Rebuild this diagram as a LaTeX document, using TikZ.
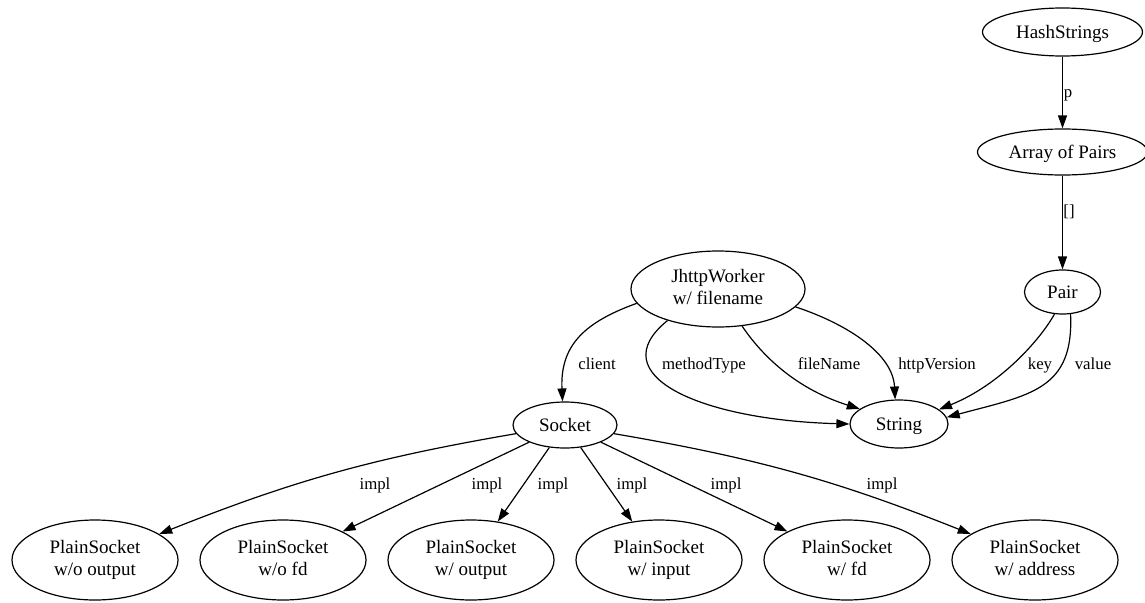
\documentclass[tikz,border=0pt]{standalone}
\usepackage{fontspec}
\setmainfont{Liberation Serif}
\usetikzlibrary{shapes.geometric,arrows.meta}

\begin{document}
\begin{tikzpicture}[x=1pt,y=1pt,
    shell/.style={draw,ellipse,inner sep=0pt,line width=1.2pt,font=\fontsize{19}{22}\selectfont},
    obj/.style={shell,text height=13.5pt,text depth=1pt},
    twolines/.style 2 args={shell,align=center,
      execute at begin node={\rule{0pt}{#1}},execute at end node={\rule[-#2]{0pt}{#2}}},
    impl/.style={twolines={19pt}{5pt},minimum width=166pt,minimum height=80pt},
    link/.style={line width=1.2pt,-{Triangle[length=13pt,width=9pt]}},
    lbl/.style={font=\fontsize{16.8}{20}\selectfont,anchor=base,inner sep=0pt}]
  \useasboundingbox (0,0) rectangle (1145,-602);

  % the hash table side
  \node[obj,minimum width=160pt,minimum height=48pt] (hash) at (1062.5,-32) {HashStrings};
  \node[obj,minimum width=170pt,minimum height=46pt] (pairs) at (1062.5,-152) {Array of Pairs};
  \node[obj,minimum width=76pt,minimum height=44pt] (pair) at (1062.5,-292) {Pair};

  % the worker
  \node[twolines={15pt}{5pt},minimum width=174pt,minimum height=76pt] (worker) at (718,-289) {JhttpWorker\\w/ filename};
  \node[obj,minimum width=104pt,minimum height=46pt] (socket) at (565,-425) {Socket};
  \node[obj,minimum width=98pt,minimum height=48pt] (string) at (899,-424) {String};

  % socket implementations
  \node[impl] (wooutput) at (95,-560) {PlainSocket\\w/o output};
  \node[impl] (wofd) at (283,-560) {PlainSocket\\w/o fd};
  \node[impl] (woutput) at (471,-560) {PlainSocket\\w/ output};
  \node[impl] (winput) at (659,-560) {PlainSocket\\w/ input};
  \node[impl] (wfd) at (847,-560) {PlainSocket\\w/ fd};
  \node[impl] (waddress) at (1035,-560) {PlainSocket\\w/ address};

  \draw[link] (hash) -- (pairs);
  \draw[link] (pairs) -- (pair);
  \node[lbl] (lp) at (1068,-97) {p};
  \node[lbl] (lidx) at (1069,-216) {[]};

  \draw[link] (worker.190) .. controls (585,-322) and (560,-345) .. (socket.96);
  \draw[link] (worker.212) .. controls (600,-375) and (700,-420) .. (string.180);
  \draw[link] (worker.303) .. controls (765,-360) and (800,-390) .. (string.159);
  \draw[link] (worker.347) .. controls (850,-325) and (893,-355) .. (string.99);
  \draw[link] (pair.250) .. controls (1040,-340) and (1000,-385) .. (string.20);
  \draw[link] (pair.290) .. controls (1074,-390) and (1030,-395) .. (string.8);
  \node[lbl] (lclient) at (597,-369) {client};
  \node[lbl] (lmethod) at (704,-369) {methodType};
  \node[lbl] (lfile) at (829,-369) {fileName};
  \node[lbl] (lversion) at (937,-369) {httpVersion};
  \node[lbl] (lkey) at (1040,-369) {key};
  \node[lbl] (lvalue) at (1093,-369) {value};

  \draw[link] (socket) to[bend right=6] (wooutput);
  \draw[link] (socket) -- (wofd);
  \draw[link] (socket) -- (woutput);
  \draw[link] (socket) -- (winput);
  \draw[link] (socket) -- (wfd);
  \draw[link] (socket) to[bend left=6] (waddress);
  \node[lbl] (limpla) at (375,-489) {impl};
  \node[lbl] (limplb) at (487,-489) {impl};
  \node[lbl] (limplc) at (553,-489) {impl};
  \node[lbl] (limpld) at (632,-489) {impl};
  \node[lbl] (limple) at (726,-489) {impl};
  \node[lbl] (limplf) at (882,-489) {impl};
\end{tikzpicture}
\end{document}
